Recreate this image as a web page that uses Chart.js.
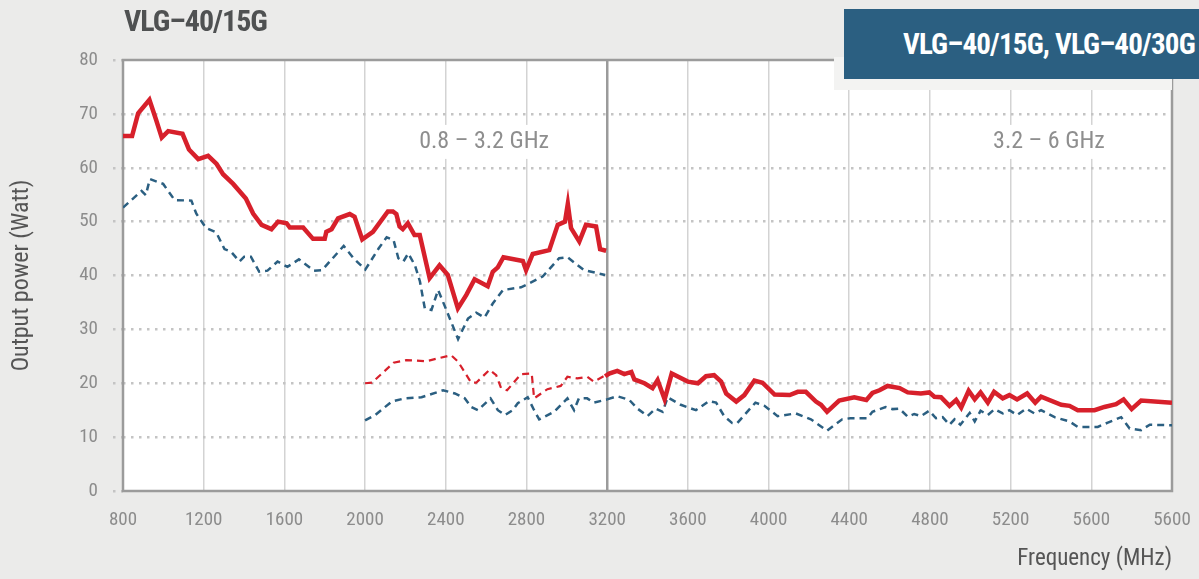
<!DOCTYPE html>
<html>
<head>
<meta charset="utf-8">
<script src="https://cdn.jsdelivr.net/npm/chart.js@4"></script>
<style>
  html, body { margin: 0; padding: 0; background: #ebebea; }
  #wrap { position: relative; width: 1199px; height: 579px; overflow: hidden; }
  #chart { position: absolute; left: 0; top: 0; }
  .title {
    position: absolute; left: 124px; top: 3px;
    font: bold 30px 'Roboto Condensed', 'DejaVu Sans Condensed', sans-serif;
    letter-spacing: -1px;
    color: #4f5152; white-space: nowrap;
  }
  .panel { position: absolute; left: 834px; top: 57px; width: 338px; height: 33px; background: #f3f3f2; }
  .banner {
    position: absolute; left: 844px; top: 9px; width: 400px; height: 70px; background: #2b5f81;
    font: bold 29px 'Roboto Condensed', 'DejaVu Sans Condensed', sans-serif;
    letter-spacing: -0.8px;
    color: #ffffff; white-space: nowrap; line-height: 70px; padding-left: 59px; box-sizing: border-box;
  }
</style>
</head>
<body>
<div id="wrap">
  <canvas id="chart" width="1199" height="579"></canvas>
  <div class="title">VLG–40/15G</div>
  <div class="panel"></div>
  <div class="banner">VLG–40/15G, VLG–40/30G</div>
</div>
<script>
const RED = '#d7202b';
const BLUE = '#2b5f81';
const FONT = "'Roboto Condensed', 'DejaVu Sans Condensed', sans-serif";

// 0.8 - 3.2 GHz, VLG-40/15G (red solid)
const redLowFreq = [800, 845, 875, 931, 964, 992, 1024, 1095, 1127, 1173, 1222, 1264, 1296, 1346, 1409, 1445, 1487, 1536, 1569, 1611, 1627, 1693, 1742, 1800, 1808, 1834, 1866, 1924, 1948, 1986, 2039, 2113, 2138, 2155, 2171, 2187, 2212, 2245, 2271, 2320, 2369, 2410, 2460, 2502, 2543, 2608, 2633, 2658, 2686, 2782, 2798, 2831, 2913, 2955, 2991, 3005, 3021, 3062, 3095, 3145, 3165, 3195];
const redLowPower = [65.9, 65.9, 70.1, 72.6, 68.9, 65.6, 66.8, 66.3, 63.4, 61.6, 62.2, 60.7, 58.8, 57.0, 54.3, 51.5, 49.4, 48.6, 50.0, 49.7, 48.9, 48.9, 46.8, 46.8, 48.1, 48.6, 50.6, 51.4, 50.9, 46.7, 48.1, 51.9, 51.9, 51.4, 49.1, 48.6, 49.7, 47.5, 47.5, 39.5, 41.9, 40.1, 33.9, 36.4, 39.3, 38.0, 40.7, 41.5, 43.4, 42.7, 41.0, 44.0, 44.7, 49.4, 50.0, 53.3, 48.8, 46.3, 49.4, 49.1, 44.9, 44.6];

// 0.8 - 3.2 GHz, upper blue dashed
const blueLowFreq = [800, 892, 913, 933, 999, 1056, 1139, 1163, 1212, 1262, 1303, 1336, 1377, 1401, 1434, 1475, 1516, 1566, 1615, 1672, 1746, 1787, 1894, 1943, 2001, 2067, 2107, 2141, 2165, 2190, 2214, 2247, 2272, 2296, 2329, 2362, 2403, 2461, 2510, 2551, 2592, 2633, 2683, 2773, 2880, 2962, 3003, 3085, 3190];
const blueLowPower = [52.6, 55.7, 54.9, 57.9, 57.0, 54.0, 53.9, 51.5, 48.8, 48.0, 44.9, 44.4, 42.6, 43.5, 43.5, 40.7, 40.9, 42.6, 41.6, 43.0, 40.9, 41.0, 45.5, 43.2, 41.1, 45.0, 47.1, 46.6, 43.2, 42.6, 44.1, 41.9, 38.9, 33.9, 33.6, 37.3, 33.6, 28.2, 32.0, 33.1, 32.2, 34.8, 37.3, 37.8, 39.8, 43.2, 43.4, 41.0, 40.1];

// 2 - 3.2 GHz, red dashed
const redMidFreq = [2000, 2034, 2141, 2206, 2304, 2427, 2461, 2526, 2551, 2617, 2650, 2674, 2704, 2773, 2826, 2838, 2904, 2970, 3003, 3052, 3101, 3134, 3192];
const redMidPower = [20.0, 20.1, 23.8, 24.3, 24.1, 25.2, 24.0, 20.1, 20.1, 22.5, 21.5, 19.1, 18.7, 21.7, 21.8, 17.2, 18.9, 19.5, 21.2, 20.9, 21.2, 20.3, 21.5];

// 2 - 3.2 GHz, lower blue dashed
const blueMidFreq = [2000, 2050, 2132, 2198, 2280, 2387, 2445, 2494, 2526, 2559, 2622, 2658, 2694, 2732, 2757, 2806, 2838, 2863, 2937, 3003, 3036, 3060, 3101, 3134, 3200];
const blueMidPower = [13.1, 14.1, 16.6, 17.2, 17.4, 18.7, 18.1, 17.2, 15.6, 15.0, 17.2, 15.0, 14.1, 15.0, 16.3, 17.4, 15.0, 13.3, 14.7, 17.2, 15.0, 17.2, 17.2, 16.4, 17.0];

// 3.2 - 6 GHz, red solid
const redHighFreq = [3190, 3210, 3250, 3285, 3320, 3335, 3385, 3425, 3450, 3485, 3520, 3600, 3650, 3690, 3730, 3765, 3790, 3840, 3880, 3930, 3970, 4030, 4105, 4145, 4185, 4235, 4260, 4290, 4350, 4425, 4485, 4515, 4550, 4590, 4650, 4690, 4755, 4797, 4822, 4855, 4897, 4930, 4955, 4992, 5022, 5051, 5087, 5118, 5161, 5194, 5232, 5282, 5322, 5351, 5451, 5492, 5533, 5616, 5665, 5723, 5760, 5800, 5847, 6000];
const redHighPower = [21.3, 21.8, 22.3, 21.7, 22.1, 20.7, 20.0, 19.1, 20.6, 17.0, 21.8, 20.3, 20.0, 21.3, 21.5, 20.3, 18.1, 16.6, 17.8, 20.5, 20.1, 17.9, 17.8, 18.4, 18.4, 16.6, 16.0, 14.7, 16.8, 17.4, 16.9, 18.2, 18.7, 19.5, 19.1, 18.3, 18.1, 18.3, 17.5, 17.4, 15.8, 16.9, 15.5, 18.6, 17.0, 18.3, 16.4, 18.4, 17.2, 17.8, 17.0, 18.1, 16.4, 17.5, 16.0, 15.8, 15.0, 15.0, 15.6, 16.1, 17.0, 15.2, 16.8, 16.4];

// 3.2 - 6 GHz, blue dashed
const blueHighFreq = [3200, 3250, 3310, 3350, 3400, 3440, 3475, 3500, 3565, 3640, 3705, 3740, 3780, 3820, 3845, 3935, 3980, 4045, 4135, 4210, 4290, 4365, 4405, 4490, 4515, 4580, 4615, 4648, 4690, 4722, 4755, 4797, 4830, 4863, 4897, 4922, 4951, 4997, 5022, 5051, 5087, 5121, 5161, 5194, 5232, 5277, 5318, 5351, 5418, 5492, 5533, 5632, 5682, 5748, 5790, 5847, 5890, 6000];
const blueHighPower = [17.0, 17.6, 16.9, 15.3, 13.9, 15.3, 14.7, 17.4, 16.0, 15.0, 16.7, 16.4, 13.9, 12.6, 12.6, 16.4, 15.8, 13.9, 14.4, 13.3, 11.2, 13.3, 13.5, 13.5, 14.7, 15.6, 15.2, 15.3, 13.8, 14.3, 13.9, 14.9, 13.5, 13.7, 12.3, 13.3, 12.3, 14.5, 12.9, 14.9, 14.1, 15.2, 14.4, 15.0, 14.1, 15.3, 14.4, 15.0, 13.7, 12.9, 11.9, 11.9, 12.7, 13.7, 11.6, 11.3, 12.3, 12.2];

const xTickLabels = ['800', '1200', '1600', '2000', '2400', '2800', '3200', '3600', '4000', '4400', '4800', '5200', '5600', '5600'];
const yTickValues = [0, 10, 20, 30, 40, 50, 60, 70, 80];
const bandLabels = ['0.8 – 3.2 GHz', '3.2 – 6 GHz'];
const bandLabelX = [2590, 5390];
const bandLabelY = 64.8;

function points(freqs, values) {
  return freqs.map((f, i) => ({ x: f, y: values[i] }));
}

function solidLine(freqs, values) {
  return {
    data: points(freqs, values),
    borderColor: RED,
    borderWidth: 4.5,
    pointRadius: 0,
    tension: 0,
    borderJoinStyle: 'miter',
  };
}

function dashedLine(freqs, values, color, width) {
  return {
    data: points(freqs, values),
    borderColor: color,
    borderWidth: width,
    borderDash: [7, 5],
    pointRadius: 0,
    tension: 0,
  };
}

const plotFrame = {
  id: 'plotFrame',
  beforeDraw(chart) {
    const { ctx, chartArea: a } = chart;
    ctx.save();
    ctx.fillStyle = '#ffffff';
    ctx.fillRect(a.left, a.top, a.right - a.left, a.bottom - a.top);
    ctx.restore();
  },
  beforeDatasetsDraw(chart) {
    const { ctx, chartArea: a, scales } = chart;
    ctx.save();
    // band names, on a white box over the grid
    ctx.font = `24px ${FONT}`;
    ctx.textAlign = 'center';
    ctx.textBaseline = 'middle';
    bandLabels.forEach((label, i) => {
      const x = scales.x.getPixelForValue(bandLabelX[i]);
      const y = scales.y.getPixelForValue(bandLabelY);
      const w = ctx.measureText(label).width;
      ctx.fillStyle = '#ffffff';
      ctx.fillRect(x - w / 2 - 6, y - 17, w + 12, 34);
      ctx.fillStyle = '#8e8e8e';
      ctx.fillText(label, x, y);
    });
    ctx.strokeStyle = '#9b9b9b';
    ctx.lineWidth = 2.5;
    ctx.strokeRect(a.left, a.top, a.right - a.left, a.bottom - a.top);
    ctx.restore();
  },
};

new Chart(document.querySelector('#chart'), {
  type: 'line',
  data: {
    datasets: [
      solidLine(redLowFreq, redLowPower),
      dashedLine(blueLowFreq, blueLowPower, BLUE, 2.5),
      dashedLine(redMidFreq, redMidPower, RED, 2.2),
      dashedLine(blueMidFreq, blueMidPower, BLUE, 2.5),
      solidLine(redHighFreq, redHighPower),
      dashedLine(blueHighFreq, blueHighPower, BLUE, 2.5),
    ],
  },
  options: {
    responsive: false,
    animation: false,
    devicePixelRatio: 1,
    layout: { padding: { top: 60, right: 27, left: 0, bottom: 0 } },
    plugins: { legend: { display: false }, tooltip: { enabled: false } },
    scales: {
      x: {
        type: 'linear',
        min: 800,
        max: 6000,
        afterFit(scale) {
          scale.height = 88;
          scale.paddingLeft = 0;
          scale.paddingRight = 0;
        },
        afterBuildTicks(scale) {
          scale.ticks = xTickLabels.map((_, i) => ({ value: 800 + i * 400 }));
        },
        ticks: {
          padding: 18,
          color: '#8c8c8c',
          font: { family: FONT, size: 19 },
          maxRotation: 0,
          autoSkip: false,
          callback(value, index) { return xTickLabels[index]; },
        },
        grid: {
          drawTicks: false,
          color: (ctx) => (ctx.tick && ctx.tick.value === 3200 ? '#9b9b9b' : '#d3d3d3'),
          lineWidth: (ctx) => (ctx.tick && ctx.tick.value === 3200 ? 2.5 : 1.5),
        },
        border: { display: false },
        title: {
          display: true,
          text: 'Frequency (MHz)',
          align: 'end',
          color: '#555555',
          font: { family: FONT, size: 23 },
          padding: { top: 6, bottom: 6 },
        },
      },
      y: {
        min: 0,
        max: 80,
        afterFit(scale) { scale.width = 123; },
        afterBuildTicks(scale) {
          scale.ticks = yTickValues.map((v) => ({ value: v }));
        },
        ticks: {
          padding: 15,
          color: '#8c8c8c',
          font: { family: FONT, size: 19 },
        },
        grid: {
          color: (ctx) => (ctx.tick && (ctx.tick.value === 0 || ctx.tick.value === 80) ? 'rgba(0,0,0,0)' : '#c4c4c4'),
          lineWidth: 2.5,
          tickLength: 10,
          tickColor: '#c4c4c4',
          tickBorderDash: [2.5, 5.5],
        },
        border: { display: false, dash: [2.5, 5.5] },
        title: {
          display: true,
          text: 'Output power (Watt)',
          color: '#555555',
          font: { family: FONT, size: 24 },
          padding: { top: 8, bottom: 4 },
        },
      },
    },
  },
  plugins: [plotFrame],
});
</script>
</body>
</html>
